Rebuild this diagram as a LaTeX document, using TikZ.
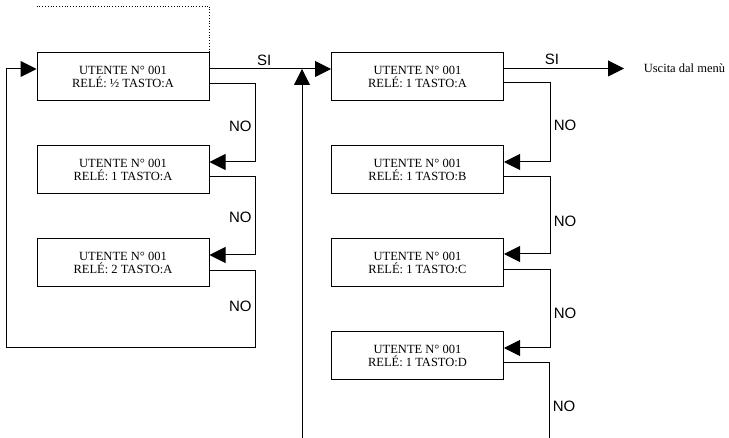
\documentclass[tikz,border=0pt]{standalone}
\usepackage{fontspec}
\setmainfont{Liberation Serif}
\newfontfamily\arialfont{Liberation Sans}
\usetikzlibrary{arrows.meta}

\begin{document}
\begin{tikzpicture}[x=1pt,y=-1pt,line width=1pt,
	box/.style={draw,minimum width=172pt,minimum height=48pt,inner sep=0pt,align=center,font=\fontsize{12.5}{13}\selectfont},
	lbl/.style={font=\arialfont\fontsize{15}{15}\selectfont},
	arr/.style={-{Triangle[length=16pt,width=16pt]}}]
			\useasboundingbox (0,0) rectangle (729,438);
			% left column
			\node[box] (a1) at (123,76.5) {UTENTE N° 001\\RELÉ: ½ TASTO:A};
			\node[box] (a2) at (123,169.5) {UTENTE N° 001\\RELÉ: 1 TASTO:A};
			\node[box] (a3) at (123,262.5) {UTENTE N° 001\\RELÉ: 2 TASTO:A};
			% right column
			\node[box] (b1) at (417.5,76.5) {UTENTE N° 001\\RELÉ: 1 TASTO:A};
			\node[box] (b2) at (417.5,169.5) {UTENTE N° 001\\RELÉ: 1 TASTO:B};
			\node[box] (b3) at (417.5,262.5) {UTENTE N° 001\\RELÉ: 1 TASTO:C};
			\node[box] (b4) at (417.5,356) {UTENTE N° 001\\RELÉ: 1 TASTO:D};
			\node[anchor=west,font=\fontsize{12.5}{13}\selectfont] (exit) at (640,68.5) {Uscita dal menù};
			\coordinate (top) at (123,6);
			\coordinate (join) at (302,69);
			\coordinate (upend) at (302,438);
			\coordinate (downend) at (549,438);
			\draw[dotted,line width=.8pt] (a1.west |- top) -| (a1.north east);
			% SI
			\draw[arr] ([yshift=7.5pt]a1.east) -- node[lbl,above,pos=.45] {SI} ([yshift=7.5pt]b1.west);
			\draw[arr] ([yshift=8pt]b1.east) -- node[lbl,above,pos=.4] {SI} ([yshift=8pt,xshift=120pt]b1.east);
			\draw[arr] (upend) -- (join);
			% NO, left
			\draw[arr] ([yshift=-7.5pt]a1.east) -- ++(46,0) |- node[lbl,left,pos=.27] {NO} ([yshift=7.5pt]a2.east);
			\draw[arr] ([yshift=-7.5pt]a2.east) -- ++(46,0) |- node[lbl,left,pos=.26] {NO} ([yshift=7.5pt]a3.east);
			\draw[arr] ([yshift=-8.5pt]a3.east) -- ++(46,0) |- node[lbl,left,pos=.23] {NO} (6,348) |- ([yshift=7.5pt]a1.west);
			% NO, right
			\draw[arr] ([yshift=-6.5pt]b1.east) -- ++(46,0) |- node[lbl,right,pos=.27] {NO} ([yshift=7.5pt]b2.east);
			\draw[arr] ([yshift=-7.5pt]b2.east) -- ++(46,0) |- node[lbl,right,pos=.29] {NO} ([yshift=8.5pt]b3.east);
			\draw[arr] ([yshift=-7.5pt]b3.east) -- ++(46,0) |- node[lbl,right,pos=.28] {NO} ([yshift=8pt]b4.east);
			\draw ([yshift=-7pt]b4.east) -| node[lbl,right,pos=.79] {NO} (downend);
\end{tikzpicture}
\end{document}
